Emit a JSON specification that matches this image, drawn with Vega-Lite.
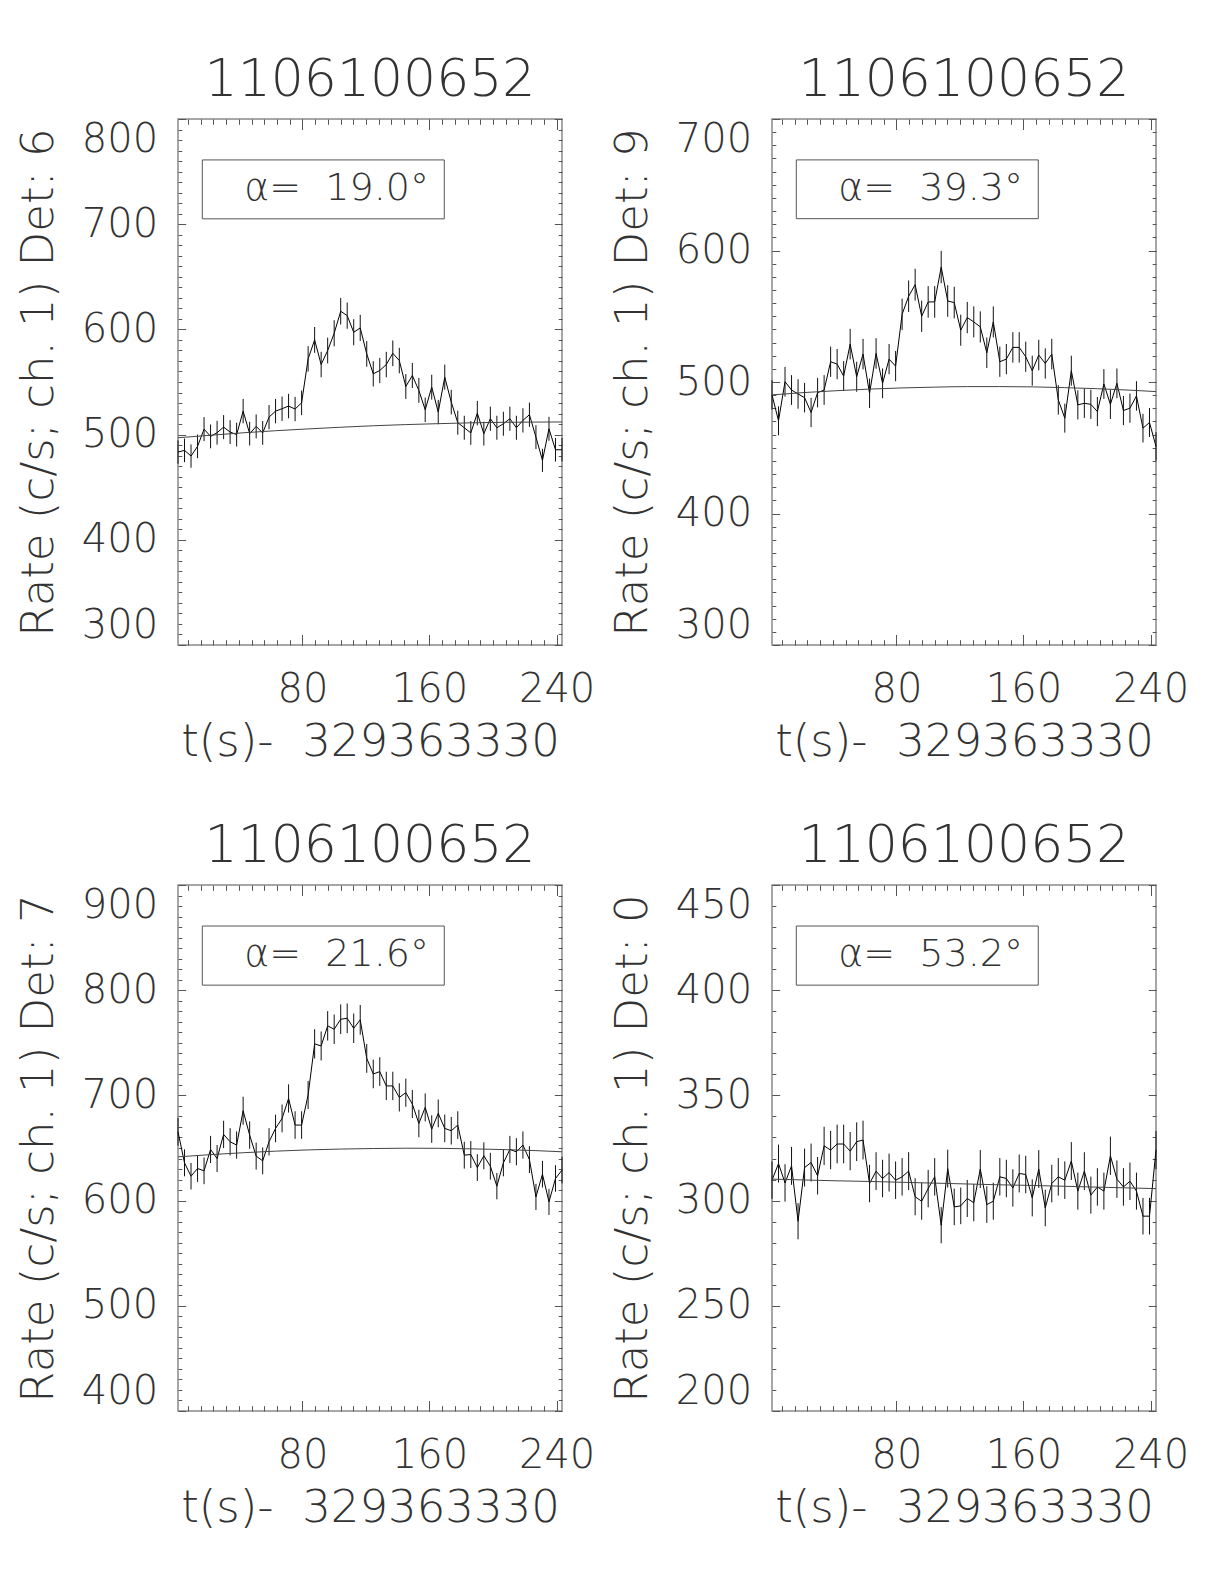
{
  "$schema": "https://vega.github.io/schema/vega-lite/v6.json",
  "background": "white",
  "padding": {"left": 15, "top": 52, "right": 10, "bottom": 10},
  "config": {
    "view": {"stroke": "#8a8a8a", "strokeWidth": 1.5},
    "font": "DejaVu Sans",
    "axis": {"grid": false, "domain": false, "tickColor": "#555", "tickWidth": 1, "labelColor": "#333", "titleColor": "#333", "labelFont": "DejaVu Sans", "titleFont": "DejaVu Sans", "labelFontWeight": 200, "titleFontWeight": 200, "labelFontSize": 40, "titleFontSize": 45, "labelOverlap": false, "labelBound": false},
    "title": {"font": "DejaVu Sans", "fontSize": 52, "fontWeight": 200, "color": "#333", "offset": 12, "baseline": "bottom", "anchor": "middle"},
    "text": {"font": "DejaVu Sans"}
  },
  "datasets": {
    "lc": [
      {"panel":1,"t":1.7,"rate":483.4,"err":11.1},{"panel":1,"t":5.8,"rate":485.0,"err":11.2},{"panel":1,"t":9.9,"rate":479.6,"err":11.1},{"panel":1,"t":14.0,"rate":488.8,"err":11.2},{"panel":1,"t":18.1,"rate":505.2,"err":11.4},{"panel":1,"t":22.2,"rate":498.3,"err":11.3},{"panel":1,"t":26.3,"rate":501.8,"err":11.3},{"panel":1,"t":30.4,"rate":507.1,"err":11.4},{"panel":1,"t":34.5,"rate":502.4,"err":11.3},{"panel":1,"t":38.6,"rate":500.0,"err":11.3},
      {"panel":1,"t":42.7,"rate":522.3,"err":11.6},{"panel":1,"t":46.8,"rate":500.9,"err":11.3},{"panel":1,"t":50.9,"rate":507.8,"err":11.4},{"panel":1,"t":55.0,"rate":501.6,"err":11.3},{"panel":1,"t":59.0,"rate":516.6,"err":11.5},{"panel":1,"t":63.1,"rate":522.3,"err":11.6},{"panel":1,"t":67.2,"rate":524.6,"err":11.6},{"panel":1,"t":71.3,"rate":527.1,"err":11.6},{"panel":1,"t":75.4,"rate":524.3,"err":11.6},{"panel":1,"t":79.5,"rate":530.2,"err":11.7},
      {"panel":1,"t":83.6,"rate":572.0,"err":12.1},{"panel":1,"t":87.7,"rate":590.0,"err":12.3},{"panel":1,"t":91.8,"rate":566.6,"err":12.1},{"panel":1,"t":95.9,"rate":579.9,"err":12.2},{"panel":1,"t":100.0,"rate":596.3,"err":12.4},{"panel":1,"t":104.1,"rate":617.2,"err":12.6},{"panel":1,"t":108.2,"rate":613.1,"err":12.5},{"panel":1,"t":112.3,"rate":597.3,"err":12.4},{"panel":1,"t":116.4,"rate":601.4,"err":12.4},{"panel":1,"t":120.5,"rate":576.7,"err":12.2},
      {"panel":1,"t":124.6,"rate":557.8,"err":12.0},{"panel":1,"t":128.7,"rate":560.9,"err":12.0},{"panel":1,"t":132.8,"rate":566.6,"err":12.1},{"panel":1,"t":136.9,"rate":577.3,"err":12.2},{"panel":1,"t":141.0,"rate":570.4,"err":12.1},{"panel":1,"t":145.1,"rate":545.7,"err":11.8},{"panel":1,"t":149.2,"rate":556.2,"err":11.9},{"panel":1,"t":153.3,"rate":542.0,"err":11.8},{"panel":1,"t":157.3,"rate":523.6,"err":11.6},{"panel":1,"t":161.4,"rate":545.1,"err":11.8},
      {"panel":1,"t":165.5,"rate":521.4,"err":11.6},{"panel":1,"t":169.6,"rate":554.6,"err":11.9},{"panel":1,"t":173.7,"rate":530.9,"err":11.7},{"panel":1,"t":177.8,"rate":511.3,"err":11.4},{"panel":1,"t":181.9,"rate":506.5,"err":11.4},{"panel":1,"t":186.0,"rate":501.6,"err":11.3},{"panel":1,"t":190.1,"rate":520.4,"err":11.6},{"panel":1,"t":194.2,"rate":500.9,"err":11.3},{"panel":1,"t":198.3,"rate":515.1,"err":11.5},{"panel":1,"t":202.4,"rate":506.5,"err":11.4},
      {"panel":1,"t":206.5,"rate":510.3,"err":11.4},{"panel":1,"t":210.6,"rate":515.1,"err":11.5},{"panel":1,"t":214.7,"rate":506.5,"err":11.4},{"panel":1,"t":218.8,"rate":513.5,"err":11.5},{"panel":1,"t":222.9,"rate":518.9,"err":11.5},{"panel":1,"t":227.0,"rate":497.6,"err":11.3},{"panel":1,"t":231.1,"rate":475.5,"err":11.0},{"panel":1,"t":235.2,"rate":505.5,"err":11.4},{"panel":1,"t":239.3,"rate":485.6,"err":11.2},{"panel":1,"t":243.4,"rate":485.6,"err":11.2},

      {"panel":2,"t":1.7,"rate":490.2,"err":11.2},{"panel":2,"t":5.8,"rate":470.5,"err":11.0},{"panel":2,"t":9.9,"rate":500.2,"err":11.3},{"panel":2,"t":14.0,"rate":493.9,"err":11.3},{"panel":2,"t":18.1,"rate":490.9,"err":11.2},{"panel":2,"t":22.2,"rate":488.1,"err":11.2},{"panel":2,"t":26.3,"rate":476.8,"err":11.1},{"panel":2,"t":30.4,"rate":491.9,"err":11.2},{"panel":2,"t":34.5,"rate":493.9,"err":11.3},{"panel":2,"t":38.6,"rate":515.4,"err":11.5},
      {"panel":2,"t":42.7,"rate":513.6,"err":11.5},{"panel":2,"t":46.8,"rate":504.5,"err":11.4},{"panel":2,"t":50.9,"rate":528.8,"err":11.6},{"panel":2,"t":55.0,"rate":504.0,"err":11.4},{"panel":2,"t":59.0,"rate":521.2,"err":11.6},{"panel":2,"t":63.1,"rate":491.4,"err":11.2},{"panel":2,"t":67.2,"rate":521.7,"err":11.6},{"panel":2,"t":71.3,"rate":499.0,"err":11.3},{"panel":2,"t":75.4,"rate":517.4,"err":11.5},{"panel":2,"t":79.5,"rate":512.1,"err":11.5},
      {"panel":2,"t":83.6,"rate":551.5,"err":11.9},{"panel":2,"t":87.7,"rate":565.2,"err":12.0},{"panel":2,"t":91.8,"rate":574.0,"err":12.1},{"panel":2,"t":95.9,"rate":550.0,"err":11.9},{"panel":2,"t":100.0,"rate":560.9,"err":12.0},{"panel":2,"t":104.1,"rate":560.9,"err":12.0},{"panel":2,"t":108.2,"rate":587.4,"err":12.3},{"panel":2,"t":112.3,"rate":561.6,"err":12.0},{"panel":2,"t":116.4,"rate":560.4,"err":12.0},{"panel":2,"t":120.5,"rate":539.4,"err":11.8},
      {"panel":2,"t":124.6,"rate":549.0,"err":11.9},{"panel":2,"t":128.7,"rate":545.7,"err":11.8},{"panel":2,"t":132.8,"rate":541.9,"err":11.8},{"panel":2,"t":136.9,"rate":522.2,"err":11.6},{"panel":2,"t":141.0,"rate":545.7,"err":11.8},{"panel":2,"t":145.1,"rate":515.4,"err":11.5},{"panel":2,"t":149.2,"rate":517.4,"err":11.5},{"panel":2,"t":153.3,"rate":526.3,"err":11.6},{"panel":2,"t":157.3,"rate":526.3,"err":11.6},{"panel":2,"t":161.4,"rate":519.2,"err":11.5},
      {"panel":2,"t":165.5,"rate":508.6,"err":11.4},{"panel":2,"t":169.6,"rate":520.5,"err":11.6},{"panel":2,"t":173.7,"rate":514.1,"err":11.5},{"panel":2,"t":177.8,"rate":521.2,"err":11.6},{"panel":2,"t":181.9,"rate":486.4,"err":11.2},{"panel":2,"t":186.0,"rate":472.5,"err":11.0},{"panel":2,"t":190.1,"rate":508.6,"err":11.4},{"panel":2,"t":194.2,"rate":482.6,"err":11.1},{"panel":2,"t":198.3,"rate":483.8,"err":11.1},{"panel":2,"t":202.4,"rate":483.0,"err":11.1},
      {"panel":2,"t":206.5,"rate":477.5,"err":11.1},{"panel":2,"t":210.6,"rate":498.5,"err":11.3},{"panel":2,"t":214.7,"rate":483.0,"err":11.1},{"panel":2,"t":218.8,"rate":499.0,"err":11.3},{"panel":2,"t":222.9,"rate":478.3,"err":11.1},{"panel":2,"t":227.0,"rate":480.1,"err":11.1},{"panel":2,"t":231.1,"rate":489.4,"err":11.2},{"panel":2,"t":235.2,"rate":464.9,"err":10.9},{"panel":2,"t":239.3,"rate":469.2,"err":11.0},{"panel":2,"t":243.4,"rate":451.0,"err":10.8},

      {"panel":3,"t":1.7,"rate":665.4,"err":13.1},{"panel":3,"t":5.8,"rate":635.9,"err":12.8},{"panel":3,"t":9.9,"rate":623.2,"err":12.6},{"panel":3,"t":14.0,"rate":630.5,"err":12.7},{"panel":3,"t":18.1,"rate":628.3,"err":12.7},{"panel":3,"t":22.2,"rate":648.6,"err":12.9},{"panel":3,"t":26.3,"rate":640.0,"err":12.8},{"panel":3,"t":30.4,"rate":662.9,"err":13.0},{"panel":3,"t":34.5,"rate":655.9,"err":13.0},{"panel":3,"t":38.6,"rate":652.8,"err":12.9},
      {"panel":3,"t":42.7,"rate":685.4,"err":13.3},{"panel":3,"t":46.8,"rate":662.3,"err":13.0},{"panel":3,"t":50.9,"rate":642.3,"err":12.8},{"panel":3,"t":55.0,"rate":637.8,"err":12.8},{"panel":3,"t":59.0,"rate":655.9,"err":13.0},{"panel":3,"t":63.1,"rate":668.6,"err":13.1},{"panel":3,"t":67.2,"rate":678.1,"err":13.2},{"panel":3,"t":71.3,"rate":697.1,"err":13.4},{"panel":3,"t":75.4,"rate":671.8,"err":13.1},{"panel":3,"t":79.5,"rate":671.8,"err":13.1},
      {"panel":3,"t":83.6,"rate":700.4,"err":13.4},{"panel":3,"t":87.7,"rate":749.0,"err":13.9},{"panel":3,"t":91.8,"rate":747.0,"err":13.8},{"panel":3,"t":95.9,"rate":766.1,"err":14.0},{"panel":3,"t":100.0,"rate":762.9,"err":14.0},{"panel":3,"t":104.1,"rate":772.4,"err":14.1},{"panel":3,"t":108.2,"rate":773.3,"err":14.1},{"panel":3,"t":112.3,"rate":763.8,"err":14.0},{"panel":3,"t":116.4,"rate":771.8,"err":14.1},{"panel":3,"t":120.5,"rate":735.2,"err":13.7},
      {"panel":3,"t":124.6,"rate":720.4,"err":13.6},{"panel":3,"t":128.7,"rate":722.6,"err":13.6},{"panel":3,"t":132.8,"rate":709.0,"err":13.5},{"panel":3,"t":136.9,"rate":709.0,"err":13.5},{"panel":3,"t":141.0,"rate":698.1,"err":13.4},{"panel":3,"t":145.1,"rate":702.6,"err":13.4},{"panel":3,"t":149.2,"rate":691.8,"err":13.3},{"panel":3,"t":153.3,"rate":673.3,"err":13.1},{"panel":3,"t":157.3,"rate":688.6,"err":13.3},{"panel":3,"t":161.4,"rate":668.0,"err":13.1},
      {"panel":3,"t":165.5,"rate":682.9,"err":13.2},{"panel":3,"t":169.6,"rate":668.6,"err":13.1},{"panel":3,"t":173.7,"rate":666.4,"err":13.1},{"panel":3,"t":177.8,"rate":671.8,"err":13.1},{"panel":3,"t":181.9,"rate":643.2,"err":12.8},{"panel":3,"t":186.0,"rate":643.8,"err":12.8},{"panel":3,"t":190.1,"rate":631.4,"err":12.7},{"panel":3,"t":194.2,"rate":642.6,"err":12.8},{"panel":3,"t":198.3,"rate":632.7,"err":12.7},{"panel":3,"t":202.4,"rate":613.7,"err":12.5},
      {"panel":3,"t":206.5,"rate":635.9,"err":12.8},{"panel":3,"t":210.6,"rate":648.6,"err":12.9},{"panel":3,"t":214.7,"rate":646.4,"err":12.9},{"panel":3,"t":218.8,"rate":652.8,"err":12.9},{"panel":3,"t":222.9,"rate":639.0,"err":12.8},{"panel":3,"t":227.0,"rate":603.5,"err":12.4},{"panel":3,"t":231.1,"rate":625.1,"err":12.7},{"panel":3,"t":235.2,"rate":598.8,"err":12.4},{"panel":3,"t":239.3,"rate":621.0,"err":12.6},{"panel":3,"t":243.4,"rate":629.0,"err":12.7},

      {"panel":4,"t":1.7,"rate":309.7,"err":8.9},{"panel":4,"t":5.8,"rate":317.6,"err":9.0},{"panel":4,"t":9.9,"rate":308.4,"err":8.9},{"panel":4,"t":14.0,"rate":316.5,"err":9.0},{"panel":4,"t":18.1,"rate":290.2,"err":8.6},{"panel":4,"t":22.2,"rate":315.7,"err":9.0},{"panel":4,"t":26.3,"rate":318.1,"err":9.0},{"panel":4,"t":30.4,"rate":311.8,"err":8.9},{"panel":4,"t":34.5,"rate":326.0,"err":9.1},{"panel":4,"t":38.6,"rate":324.0,"err":9.1},
      {"panel":4,"t":42.7,"rate":326.9,"err":9.2},{"panel":4,"t":46.8,"rate":326.9,"err":9.2},{"panel":4,"t":50.9,"rate":323.5,"err":9.1},{"panel":4,"t":55.0,"rate":328.0,"err":9.2},{"panel":4,"t":59.0,"rate":328.8,"err":9.2},{"panel":4,"t":63.1,"rate":308.1,"err":8.9},{"panel":4,"t":67.2,"rate":314.0,"err":9.0},{"panel":4,"t":71.3,"rate":310.5,"err":8.9},{"panel":4,"t":75.4,"rate":313.3,"err":9.0},{"panel":4,"t":79.5,"rate":309.7,"err":8.9},
      {"panel":4,"t":83.6,"rate":311.3,"err":8.9},{"panel":4,"t":87.7,"rate":314.0,"err":9.0},{"panel":4,"t":91.8,"rate":301.8,"err":8.8},{"panel":4,"t":95.9,"rate":299.7,"err":8.8},{"panel":4,"t":100.0,"rate":305.7,"err":8.9},{"panel":4,"t":104.1,"rate":311.3,"err":8.9},{"panel":4,"t":108.2,"rate":288.3,"err":8.6},{"panel":4,"t":112.3,"rate":315.2,"err":9.0},{"panel":4,"t":116.4,"rate":297.0,"err":8.7},{"panel":4,"t":120.5,"rate":297.5,"err":8.7},
      {"panel":4,"t":124.6,"rate":301.0,"err":8.8},{"panel":4,"t":128.7,"rate":299.0,"err":8.8},{"panel":4,"t":132.8,"rate":315.0,"err":9.0},{"panel":4,"t":136.9,"rate":298.1,"err":8.7},{"panel":4,"t":141.0,"rate":299.7,"err":8.8},{"panel":4,"t":145.1,"rate":311.3,"err":8.9},{"panel":4,"t":149.2,"rate":310.5,"err":8.9},{"panel":4,"t":153.3,"rate":306.0,"err":8.9},{"panel":4,"t":157.3,"rate":312.9,"err":9.0},{"panel":4,"t":161.4,"rate":312.4,"err":8.9},
      {"panel":4,"t":165.5,"rate":301.3,"err":8.8},{"panel":4,"t":169.6,"rate":315.0,"err":9.0},{"panel":4,"t":173.7,"rate":296.5,"err":8.7},{"panel":4,"t":177.8,"rate":308.1,"err":8.9},{"panel":4,"t":181.9,"rate":311.3,"err":8.9},{"panel":4,"t":186.0,"rate":309.7,"err":8.9},{"panel":4,"t":190.1,"rate":318.8,"err":9.0},{"panel":4,"t":194.2,"rate":304.5,"err":8.8},{"panel":4,"t":198.3,"rate":314.0,"err":9.0},{"panel":4,"t":202.4,"rate":302.6,"err":8.8},
      {"panel":4,"t":206.5,"rate":306.5,"err":8.9},{"panel":4,"t":210.6,"rate":304.5,"err":8.8},{"panel":4,"t":214.7,"rate":321.3,"err":9.1},{"panel":4,"t":218.8,"rate":310.2,"err":8.9},{"panel":4,"t":222.9,"rate":306.5,"err":8.9},{"panel":4,"t":227.0,"rate":309.2,"err":8.9},{"panel":4,"t":231.1,"rate":304.5,"err":8.8},{"panel":4,"t":235.2,"rate":292.6,"err":8.7},{"panel":4,"t":239.3,"rate":292.6,"err":8.7},{"panel":4,"t":243.4,"rate":324.0,"err":9.1}
    ],
    "bg": [
      {"panel":1,"t":1.7,"bg":497.0},{"panel":1,"t":22.2,"bg":499.4},{"panel":1,"t":42.7,"bg":501.7},{"panel":1,"t":63.1,"bg":503.7},{"panel":1,"t":83.6,"bg":505.4},{"panel":1,"t":104.1,"bg":507.0},{"panel":1,"t":124.6,"bg":508.4},{"panel":1,"t":145.1,"bg":509.5},{"panel":1,"t":165.5,"bg":510.4},{"panel":1,"t":186.0,"bg":511.2},{"panel":1,"t":206.5,"bg":511.7},{"panel":1,"t":227.0,"bg":511.9},{"panel":1,"t":243.4,"bg":512.0},
      {"panel":2,"t":1.7,"bg":490.2},{"panel":2,"t":22.2,"bg":492.0},{"panel":2,"t":42.7,"bg":493.4},{"panel":2,"t":63.1,"bg":494.6},{"panel":2,"t":83.6,"bg":495.5},{"panel":2,"t":104.1,"bg":496.1},{"panel":2,"t":124.6,"bg":496.5},{"panel":2,"t":145.1,"bg":496.5},{"panel":2,"t":165.5,"bg":496.3},{"panel":2,"t":186.0,"bg":495.7},{"panel":2,"t":206.5,"bg":494.9},{"panel":2,"t":227.0,"bg":493.8},{"panel":2,"t":243.4,"bg":492.7},
      {"panel":3,"t":1.7,"bg":641.6},{"panel":3,"t":22.2,"bg":643.7},{"panel":3,"t":42.7,"bg":645.5},{"panel":3,"t":63.1,"bg":647.0},{"panel":3,"t":83.6,"bg":648.2},{"panel":3,"t":104.1,"bg":649.0},{"panel":3,"t":124.6,"bg":649.5},{"panel":3,"t":145.1,"bg":649.8},{"panel":3,"t":165.5,"bg":649.7},{"panel":3,"t":186.0,"bg":649.2},{"panel":3,"t":206.5,"bg":648.5},{"panel":3,"t":227.0,"bg":647.5},{"panel":3,"t":243.4,"bg":646.4},
      {"panel":4,"t":1.7,"bg":310.2},{"panel":4,"t":22.2,"bg":309.8},{"panel":4,"t":42.7,"bg":309.4},{"panel":4,"t":63.1,"bg":309.1},{"panel":4,"t":83.6,"bg":308.7},{"panel":4,"t":104.1,"bg":308.3},{"panel":4,"t":124.6,"bg":307.9},{"panel":4,"t":145.1,"bg":307.5},{"panel":4,"t":165.5,"bg":307.2},{"panel":4,"t":186.0,"bg":306.8},{"panel":4,"t":206.5,"bg":306.4},{"panel":4,"t":227.0,"bg":306.0},{"panel":4,"t":243.4,"bg":305.7}
    ]
  },
  "columns": 2,
  "bounds": "flush",
  "spacing": {"row": 240, "column": 210},
  "concat": [
    {
      "title": "1106100652",
      "width": 384, "height": 526,
      "resolve": {"axis": {"x": "independent", "y": "independent"}},
      "layer": [
        {"data": {"name": "lc"}, "transform": [{"filter": "datum.panel == 1"}],
         "mark": {"type": "line", "color": "#000", "strokeWidth": 1},
         "encoding": {
           "x": {"field": "t", "type": "quantitative", "scale": {"domain": [1.7, 243.4], "nice": false, "zero": false}, "axis": {"orient": "bottom", "values": [80,160,240], "format": "d", "tickSize": -10.5, "labelPadding": 35, "labelFlush": false, "title": "t(s)- \u00a0329363330", "titlePadding": 10}},
           "y": {"field": "rate", "type": "quantitative", "scale": {"domain": [300, 800], "nice": false, "zero": false}, "axis": {"orient": "left", "values": [300,400,500,600,700,800], "format": "d", "tickSize": -7.7, "labelPadding": 28, "labelFlush": true, "title": "Rate (c/s; ch. 1) Det: 6", "titlePadding": 20}}
         }},
        {"data": {"name": "lc"}, "transform": [{"filter": "datum.panel == 1"}],
         "mark": {"type": "errorbar", "color": "#111", "thickness": 1},
         "encoding": {
           "x": {"field": "t", "type": "quantitative", "scale": {"domain": [1.7, 243.4], "nice": false, "zero": false}, "axis": null},
           "y": {"field": "rate", "type": "quantitative", "scale": {"domain": [300, 800], "nice": false, "zero": false}, "axis": null},
           "yError": {"field": "err"}
         }},
        {"data": {"name": "bg"}, "transform": [{"filter": "datum.panel == 1"}],
         "mark": {"type": "line", "color": "#444", "strokeWidth": 1, "interpolate": "monotone"},
         "encoding": {
           "x": {"field": "t", "type": "quantitative", "scale": {"domain": [1.7, 243.4], "nice": false, "zero": false}, "axis": {"orient": "bottom", "values": [8,16,24,32,40,48,56,64,72,80,88,96,104,112,120,128,136,144,152,160,168,176,184,192,200,208,216,224,232,240], "tickSize": -5.3, "labels": false, "title": null}},
           "y": {"field": "bg", "type": "quantitative", "scale": {"domain": [300, 800], "nice": false, "zero": false}, "axis": {"orient": "left", "values": [310,320,330,340,350,360,370,380,390,400,410,420,430,440,450,460,470,480,490,500,510,520,530,540,550,560,570,580,590,600,610,620,630,640,650,660,670,680,690,700,710,720,730,740,750,760,770,780,790], "tickSize": -3.8, "labels": false, "title": null}}
         }},
        {"data": {"name": "lc"}, "transform": [{"filter": "datum.panel == 1"}],
         "mark": {"type": "point", "opacity": 0},
         "encoding": {
           "x": {"field": "t", "type": "quantitative", "scale": {"domain": [1.7, 243.4], "nice": false, "zero": false}, "axis": {"orient": "top", "values": [80,160,240], "tickSize": -10.5, "labels": false, "title": null}},
           "y": {"field": "rate", "type": "quantitative", "scale": {"domain": [300, 800], "nice": false, "zero": false}, "axis": {"orient": "right", "values": [300,400,500,600,700,800], "tickSize": -7.7, "labels": false, "title": null}}
         }},
        {"data": {"name": "bg"}, "transform": [{"filter": "datum.panel == 1"}],
         "mark": {"type": "point", "opacity": 0},
         "encoding": {
           "x": {"field": "t", "type": "quantitative", "scale": {"domain": [1.7, 243.4], "nice": false, "zero": false}, "axis": {"orient": "top", "values": [8,16,24,32,40,48,56,64,72,80,88,96,104,112,120,128,136,144,152,160,168,176,184,192,200,208,216,224,232,240], "tickSize": -5.3, "labels": false, "title": null}},
           "y": {"field": "bg", "type": "quantitative", "scale": {"domain": [300, 800], "nice": false, "zero": false}, "axis": {"orient": "right", "values": [310,320,330,340,350,360,370,380,390,400,410,420,430,440,450,460,470,480,490,500,510,520,530,540,550,560,570,580,590,600,610,620,630,640,650,660,670,680,690,700,710,720,730,740,750,760,770,780,790], "tickSize": -3.8, "labels": false, "title": null}}
         }},
        {"data": {"values": [{}]},
         "mark": {"type": "rect", "fillOpacity": 0, "stroke": "#555", "strokeWidth": 1},
         "encoding": {
           "x": {"datum": 17.0, "type": "quantitative", "scale": {"domain": [1.7, 243.4], "nice": false, "zero": false}, "axis": null},
           "x2": {"datum": 169.3},
           "y": {"datum": 761.1, "type": "quantitative", "scale": {"domain": [300, 800], "nice": false, "zero": false}, "axis": null},
           "y2": {"datum": 705.1}
         }},
        {"data": {"values": [{}]},
         "mark": {"type": "text", "fontSize": 38, "fontWeight": 200, "color": "#333", "align": "center", "baseline": "middle"},
         "encoding": {
           "x": {"datum": 101.5, "type": "quantitative", "scale": {"domain": [1.7, 243.4], "nice": false, "zero": false}, "axis": null},
           "y": {"datum": 733.6, "type": "quantitative", "scale": {"domain": [300, 800], "nice": false, "zero": false}, "axis": null},
           "text": {"value": "α=\u00a0\u00a019.0°"}
         }}
      ]
    },
    {
      "title": "1106100652",
      "width": 384, "height": 526,
      "resolve": {"axis": {"x": "independent", "y": "independent"}},
      "layer": [
        {"data": {"name": "lc"}, "transform": [{"filter": "datum.panel == 2"}],
         "mark": {"type": "line", "color": "#000", "strokeWidth": 1},
         "encoding": {
           "x": {"field": "t", "type": "quantitative", "scale": {"domain": [1.7, 243.4], "nice": false, "zero": false}, "axis": {"orient": "bottom", "values": [80,160,240], "format": "d", "tickSize": -10.5, "labelPadding": 35, "labelFlush": false, "title": "t(s)- \u00a0329363330", "titlePadding": 10}},
           "y": {"field": "rate", "type": "quantitative", "scale": {"domain": [300, 700], "nice": false, "zero": false}, "axis": {"orient": "left", "values": [300,400,500,600,700], "format": "d", "tickSize": -7.7, "labelPadding": 28, "labelFlush": true, "title": "Rate (c/s; ch. 1) Det: 9", "titlePadding": 20}}
         }},
        {"data": {"name": "lc"}, "transform": [{"filter": "datum.panel == 2"}],
         "mark": {"type": "errorbar", "color": "#111", "thickness": 1},
         "encoding": {
           "x": {"field": "t", "type": "quantitative", "scale": {"domain": [1.7, 243.4], "nice": false, "zero": false}, "axis": null},
           "y": {"field": "rate", "type": "quantitative", "scale": {"domain": [300, 700], "nice": false, "zero": false}, "axis": null},
           "yError": {"field": "err"}
         }},
        {"data": {"name": "bg"}, "transform": [{"filter": "datum.panel == 2"}],
         "mark": {"type": "line", "color": "#444", "strokeWidth": 1, "interpolate": "monotone"},
         "encoding": {
           "x": {"field": "t", "type": "quantitative", "scale": {"domain": [1.7, 243.4], "nice": false, "zero": false}, "axis": {"orient": "bottom", "values": [8,16,24,32,40,48,56,64,72,80,88,96,104,112,120,128,136,144,152,160,168,176,184,192,200,208,216,224,232,240], "tickSize": -5.3, "labels": false, "title": null}},
           "y": {"field": "bg", "type": "quantitative", "scale": {"domain": [300, 700], "nice": false, "zero": false}, "axis": {"orient": "left", "values": [310,320,330,340,350,360,370,380,390,400,410,420,430,440,450,460,470,480,490,500,510,520,530,540,550,560,570,580,590,600,610,620,630,640,650,660,670,680,690], "tickSize": -3.8, "labels": false, "title": null}}
         }},
        {"data": {"name": "lc"}, "transform": [{"filter": "datum.panel == 2"}],
         "mark": {"type": "point", "opacity": 0},
         "encoding": {
           "x": {"field": "t", "type": "quantitative", "scale": {"domain": [1.7, 243.4], "nice": false, "zero": false}, "axis": {"orient": "top", "values": [80,160,240], "tickSize": -10.5, "labels": false, "title": null}},
           "y": {"field": "rate", "type": "quantitative", "scale": {"domain": [300, 700], "nice": false, "zero": false}, "axis": {"orient": "right", "values": [300,400,500,600,700], "tickSize": -7.7, "labels": false, "title": null}}
         }},
        {"data": {"name": "bg"}, "transform": [{"filter": "datum.panel == 2"}],
         "mark": {"type": "point", "opacity": 0},
         "encoding": {
           "x": {"field": "t", "type": "quantitative", "scale": {"domain": [1.7, 243.4], "nice": false, "zero": false}, "axis": {"orient": "top", "values": [8,16,24,32,40,48,56,64,72,80,88,96,104,112,120,128,136,144,152,160,168,176,184,192,200,208,216,224,232,240], "tickSize": -5.3, "labels": false, "title": null}},
           "y": {"field": "bg", "type": "quantitative", "scale": {"domain": [300, 700], "nice": false, "zero": false}, "axis": {"orient": "right", "values": [310,320,330,340,350,360,370,380,390,400,410,420,430,440,450,460,470,480,490,500,510,520,530,540,550,560,570,580,590,600,610,620,630,640,650,660,670,680,690], "tickSize": -3.8, "labels": false, "title": null}}
         }},
        {"data": {"values": [{}]},
         "mark": {"type": "rect", "fillOpacity": 0, "stroke": "#555", "strokeWidth": 1},
         "encoding": {
           "x": {"datum": 17.0, "type": "quantitative", "scale": {"domain": [1.7, 243.4], "nice": false, "zero": false}, "axis": null},
           "x2": {"datum": 169.3},
           "y": {"datum": 668.9, "type": "quantitative", "scale": {"domain": [300, 700], "nice": false, "zero": false}, "axis": null},
           "y2": {"datum": 624.2}
         }},
        {"data": {"values": [{}]},
         "mark": {"type": "text", "fontSize": 38, "fontWeight": 200, "color": "#333", "align": "center", "baseline": "middle"},
         "encoding": {
           "x": {"datum": 101.5, "type": "quantitative", "scale": {"domain": [1.7, 243.4], "nice": false, "zero": false}, "axis": null},
           "y": {"datum": 647.0, "type": "quantitative", "scale": {"domain": [300, 700], "nice": false, "zero": false}, "axis": null},
           "text": {"value": "α=\u00a0\u00a039.3°"}
         }}
      ]
    },
    {
      "title": "1106100652",
      "width": 384, "height": 526,
      "resolve": {"axis": {"x": "independent", "y": "independent"}},
      "layer": [
        {"data": {"name": "lc"}, "transform": [{"filter": "datum.panel == 3"}],
         "mark": {"type": "line", "color": "#000", "strokeWidth": 1},
         "encoding": {
           "x": {"field": "t", "type": "quantitative", "scale": {"domain": [1.7, 243.4], "nice": false, "zero": false}, "axis": {"orient": "bottom", "values": [80,160,240], "format": "d", "tickSize": -10.5, "labelPadding": 35, "labelFlush": false, "title": "t(s)- \u00a0329363330", "titlePadding": 10}},
           "y": {"field": "rate", "type": "quantitative", "scale": {"domain": [400, 900], "nice": false, "zero": false}, "axis": {"orient": "left", "values": [400,500,600,700,800,900], "format": "d", "tickSize": -7.7, "labelPadding": 28, "labelFlush": true, "title": "Rate (c/s; ch. 1) Det: 7", "titlePadding": 20}}
         }},
        {"data": {"name": "lc"}, "transform": [{"filter": "datum.panel == 3"}],
         "mark": {"type": "errorbar", "color": "#111", "thickness": 1},
         "encoding": {
           "x": {"field": "t", "type": "quantitative", "scale": {"domain": [1.7, 243.4], "nice": false, "zero": false}, "axis": null},
           "y": {"field": "rate", "type": "quantitative", "scale": {"domain": [400, 900], "nice": false, "zero": false}, "axis": null},
           "yError": {"field": "err"}
         }},
        {"data": {"name": "bg"}, "transform": [{"filter": "datum.panel == 3"}],
         "mark": {"type": "line", "color": "#444", "strokeWidth": 1, "interpolate": "monotone"},
         "encoding": {
           "x": {"field": "t", "type": "quantitative", "scale": {"domain": [1.7, 243.4], "nice": false, "zero": false}, "axis": {"orient": "bottom", "values": [8,16,24,32,40,48,56,64,72,80,88,96,104,112,120,128,136,144,152,160,168,176,184,192,200,208,216,224,232,240], "tickSize": -5.3, "labels": false, "title": null}},
           "y": {"field": "bg", "type": "quantitative", "scale": {"domain": [400, 900], "nice": false, "zero": false}, "axis": {"orient": "left", "values": [410,420,430,440,450,460,470,480,490,500,510,520,530,540,550,560,570,580,590,600,610,620,630,640,650,660,670,680,690,700,710,720,730,740,750,760,770,780,790,800,810,820,830,840,850,860,870,880,890], "tickSize": -3.8, "labels": false, "title": null}}
         }},
        {"data": {"name": "lc"}, "transform": [{"filter": "datum.panel == 3"}],
         "mark": {"type": "point", "opacity": 0},
         "encoding": {
           "x": {"field": "t", "type": "quantitative", "scale": {"domain": [1.7, 243.4], "nice": false, "zero": false}, "axis": {"orient": "top", "values": [80,160,240], "tickSize": -10.5, "labels": false, "title": null}},
           "y": {"field": "rate", "type": "quantitative", "scale": {"domain": [400, 900], "nice": false, "zero": false}, "axis": {"orient": "right", "values": [400,500,600,700,800,900], "tickSize": -7.7, "labels": false, "title": null}}
         }},
        {"data": {"name": "bg"}, "transform": [{"filter": "datum.panel == 3"}],
         "mark": {"type": "point", "opacity": 0},
         "encoding": {
           "x": {"field": "t", "type": "quantitative", "scale": {"domain": [1.7, 243.4], "nice": false, "zero": false}, "axis": {"orient": "top", "values": [8,16,24,32,40,48,56,64,72,80,88,96,104,112,120,128,136,144,152,160,168,176,184,192,200,208,216,224,232,240], "tickSize": -5.3, "labels": false, "title": null}},
           "y": {"field": "bg", "type": "quantitative", "scale": {"domain": [400, 900], "nice": false, "zero": false}, "axis": {"orient": "right", "values": [410,420,430,440,450,460,470,480,490,500,510,520,530,540,550,560,570,580,590,600,610,620,630,640,650,660,670,680,690,700,710,720,730,740,750,760,770,780,790,800,810,820,830,840,850,860,870,880,890], "tickSize": -3.8, "labels": false, "title": null}}
         }},
        {"data": {"values": [{}]},
         "mark": {"type": "rect", "fillOpacity": 0, "stroke": "#555", "strokeWidth": 1},
         "encoding": {
           "x": {"datum": 17.0, "type": "quantitative", "scale": {"domain": [1.7, 243.4], "nice": false, "zero": false}, "axis": null},
           "x2": {"datum": 169.3},
           "y": {"datum": 861.0, "type": "quantitative", "scale": {"domain": [400, 900], "nice": false, "zero": false}, "axis": null},
           "y2": {"datum": 804.8}
         }},
        {"data": {"values": [{}]},
         "mark": {"type": "text", "fontSize": 38, "fontWeight": 200, "color": "#333", "align": "center", "baseline": "middle"},
         "encoding": {
           "x": {"datum": 101.5, "type": "quantitative", "scale": {"domain": [1.7, 243.4], "nice": false, "zero": false}, "axis": null},
           "y": {"datum": 833.3, "type": "quantitative", "scale": {"domain": [400, 900], "nice": false, "zero": false}, "axis": null},
           "text": {"value": "α=\u00a0\u00a021.6°"}
         }}
      ]
    },
    {
      "title": "1106100652",
      "width": 384, "height": 526,
      "resolve": {"axis": {"x": "independent", "y": "independent"}},
      "layer": [
        {"data": {"name": "lc"}, "transform": [{"filter": "datum.panel == 4"}],
         "mark": {"type": "line", "color": "#000", "strokeWidth": 1},
         "encoding": {
           "x": {"field": "t", "type": "quantitative", "scale": {"domain": [1.7, 243.4], "nice": false, "zero": false}, "axis": {"orient": "bottom", "values": [80,160,240], "format": "d", "tickSize": -10.5, "labelPadding": 35, "labelFlush": false, "title": "t(s)- \u00a0329363330", "titlePadding": 10}},
           "y": {"field": "rate", "type": "quantitative", "scale": {"domain": [200, 450], "nice": false, "zero": false}, "axis": {"orient": "left", "values": [200,250,300,350,400,450], "format": "d", "tickSize": -7.7, "labelPadding": 28, "labelFlush": true, "title": "Rate (c/s; ch. 1) Det: 0", "titlePadding": 20}}
         }},
        {"data": {"name": "lc"}, "transform": [{"filter": "datum.panel == 4"}],
         "mark": {"type": "errorbar", "color": "#111", "thickness": 1},
         "encoding": {
           "x": {"field": "t", "type": "quantitative", "scale": {"domain": [1.7, 243.4], "nice": false, "zero": false}, "axis": null},
           "y": {"field": "rate", "type": "quantitative", "scale": {"domain": [200, 450], "nice": false, "zero": false}, "axis": null},
           "yError": {"field": "err"}
         }},
        {"data": {"name": "bg"}, "transform": [{"filter": "datum.panel == 4"}],
         "mark": {"type": "line", "color": "#444", "strokeWidth": 1, "interpolate": "monotone"},
         "encoding": {
           "x": {"field": "t", "type": "quantitative", "scale": {"domain": [1.7, 243.4], "nice": false, "zero": false}, "axis": {"orient": "bottom", "values": [8,16,24,32,40,48,56,64,72,80,88,96,104,112,120,128,136,144,152,160,168,176,184,192,200,208,216,224,232,240], "tickSize": -5.3, "labels": false, "title": null}},
           "y": {"field": "bg", "type": "quantitative", "scale": {"domain": [200, 450], "nice": false, "zero": false}, "axis": {"orient": "left", "values": [210,220,230,240,250,260,270,280,290,300,310,320,330,340,350,360,370,380,390,400,410,420,430,440], "tickSize": -3.8, "labels": false, "title": null}}
         }},
        {"data": {"name": "lc"}, "transform": [{"filter": "datum.panel == 4"}],
         "mark": {"type": "point", "opacity": 0},
         "encoding": {
           "x": {"field": "t", "type": "quantitative", "scale": {"domain": [1.7, 243.4], "nice": false, "zero": false}, "axis": {"orient": "top", "values": [80,160,240], "tickSize": -10.5, "labels": false, "title": null}},
           "y": {"field": "rate", "type": "quantitative", "scale": {"domain": [200, 450], "nice": false, "zero": false}, "axis": {"orient": "right", "values": [200,250,300,350,400,450], "tickSize": -7.7, "labels": false, "title": null}}
         }},
        {"data": {"name": "bg"}, "transform": [{"filter": "datum.panel == 4"}],
         "mark": {"type": "point", "opacity": 0},
         "encoding": {
           "x": {"field": "t", "type": "quantitative", "scale": {"domain": [1.7, 243.4], "nice": false, "zero": false}, "axis": {"orient": "top", "values": [8,16,24,32,40,48,56,64,72,80,88,96,104,112,120,128,136,144,152,160,168,176,184,192,200,208,216,224,232,240], "tickSize": -5.3, "labels": false, "title": null}},
           "y": {"field": "bg", "type": "quantitative", "scale": {"domain": [200, 450], "nice": false, "zero": false}, "axis": {"orient": "right", "values": [210,220,230,240,250,260,270,280,290,300,310,320,330,340,350,360,370,380,390,400,410,420,430,440], "tickSize": -3.8, "labels": false, "title": null}}
         }},
        {"data": {"values": [{}]},
         "mark": {"type": "rect", "fillOpacity": 0, "stroke": "#555", "strokeWidth": 1},
         "encoding": {
           "x": {"datum": 17.0, "type": "quantitative", "scale": {"domain": [1.7, 243.4], "nice": false, "zero": false}, "axis": null},
           "x2": {"datum": 169.3},
           "y": {"datum": 430.5, "type": "quantitative", "scale": {"domain": [200, 450], "nice": false, "zero": false}, "axis": null},
           "y2": {"datum": 402.4}
         }},
        {"data": {"values": [{}]},
         "mark": {"type": "text", "fontSize": 38, "fontWeight": 200, "color": "#333", "align": "center", "baseline": "middle"},
         "encoding": {
           "x": {"datum": 101.5, "type": "quantitative", "scale": {"domain": [1.7, 243.4], "nice": false, "zero": false}, "axis": null},
           "y": {"datum": 416.7, "type": "quantitative", "scale": {"domain": [200, 450], "nice": false, "zero": false}, "axis": null},
           "text": {"value": "α=\u00a0\u00a053.2°"}
         }}
      ]
    }
  ]
}
